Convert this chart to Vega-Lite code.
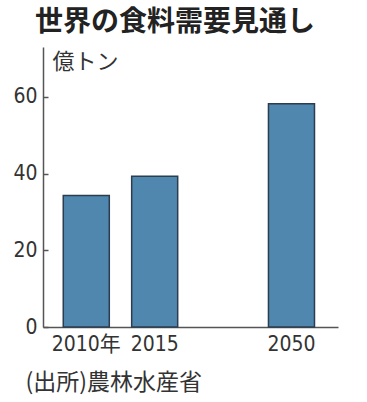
{
  "$schema": "https://vega.github.io/schema/vega-lite/v6.json",
  "width": 295,
  "height": 280,
  "autosize": "none",
  "padding": {"left": 43, "top": 47, "right": 29, "bottom": 75},
  "background": "white",
  "title": {
    "text": "世界の食料需要見通し",
    "anchor": "start",
    "frame": "group",
    "dx": -8,
    "offset": 10,
    "font": "Noto Sans CJK JP",
    "fontSize": 28,
    "fontWeight": "bold",
    "color": "#222222"
  },
  "data": {
    "values": [
      {"year": "2010年", "value": 34.3},
      {"year": "2015", "value": 39.3},
      {"year": "2050", "value": 58.2}
    ]
  },
  "mark": {"type": "bar", "fill": "#4f87ae", "stroke": "#2b3d4f", "strokeWidth": 1.5},
  "encoding": {
    "x": {
      "field": "year",
      "type": "nominal",
      "scale": {"domain": ["2010年", "2015", " ", "2050"], "paddingInner": 0.327, "paddingOuter": 0.32, "align": 0.463},
      "axis": {
        "ticks": false,
        "labelAngle": 0,
        "labelPadding": 6,
        "labelFont": "DejaVu Sans Condensed, Noto Sans CJK JP",
        "labelFontSize": 21,
        "labelColor": "#333333",
        "domainColor": "#555555",
        "domainWidth": 1.5,
        "title": "(出所)農林水産省",
        "titleX": -18,
        "titleY": 55,
        "titleAlign": "left",
        "titleAnchor": "start",
        "titleBaseline": "middle",
        "titleFont": "Noto Sans CJK JP",
        "titleFontSize": 23,
        "titleFontWeight": "normal",
        "titleColor": "#333333"
      }
    },
    "y": {
      "field": "value",
      "type": "quantitative",
      "scale": {"domain": [0, 73], "nice": false},
      "axis": {
        "values": [0, 20, 40, 60],
        "grid": false,
        "tickSize": -5,
        "tickColor": "#555555",
        "tickWidth": 1.5,
        "domainColor": "#555555",
        "domainWidth": 1.5,
        "labelPadding": 11,
        "labelFont": "DejaVu Sans Condensed",
        "labelFontSize": 21,
        "labelColor": "#333333",
        "title": "億トン",
        "titleAngle": 0,
        "titleAlign": "left",
        "titleBaseline": "middle",
        "titleX": 9,
        "titleY": 14,
        "titleFont": "Noto Sans CJK JP",
        "titleFontSize": 22,
        "titleFontWeight": "normal",
        "titleColor": "#333333"
      }
    }
  },
  "config": {"view": {"stroke": null}}
}
